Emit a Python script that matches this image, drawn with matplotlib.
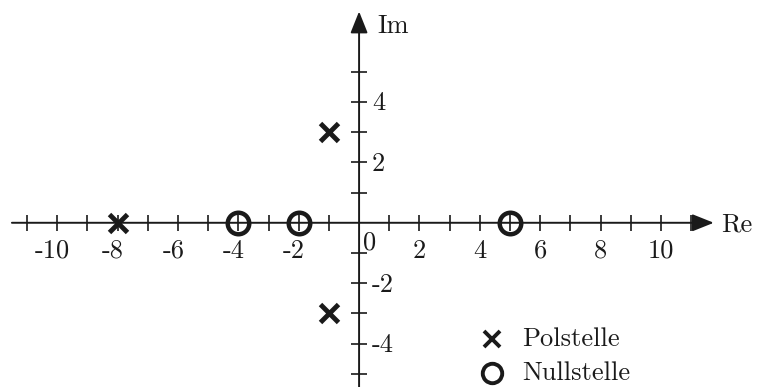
import matplotlib
matplotlib.use('Agg')
import matplotlib.pyplot as plt

# pole / zero positions (real, imag)
pole_re = [-8, -1, -1]
pole_im = [0, 3, -3]
zero_re = [-4, -2, 5]
zero_im = [0, 0, 0]

x_ticks = list(range(-11, 12))
y_ticks = list(range(-5, 6))
x_labels = [-10, -8, -6, -4, -2, 2, 4, 6, 8, 10]
y_labels = [-4, -2, 2, 4]

plt.rcParams['font.family'] = ['cmr10', 'DejaVu Serif']
plt.rcParams['axes.formatter.use_mathtext'] = True
fs = 19
col = '#1a1a1a'

fig = plt.figure(figsize=(7.58, 3.87), dpi=100)
ax = fig.add_axes([0, 0, 1, 1])
ax.set_xlim(-11.89, 13.21)
ax.set_ylim(-5.44, 7.38)
ax.set_aspect('equal')
ax.axis('off')

# axes with arrows
head = dict(arrowstyle='-|>,head_length=0.55,head_width=0.22', lw=1.4,
            color=col, mutation_scale=24, shrinkA=0, shrinkB=0)
ax.annotate('', xy=(11.75, 0), xytext=(-11.5, 0), arrowprops=head)
ax.annotate('', xy=(0, 7.0), xytext=(0, -5.6), arrowprops=head)

# tick marks
t = 0.27
for x in x_ticks:
    if x != 0:
        ax.plot([x, x], [-t, t], color=col, lw=1.2, solid_capstyle='butt')
for y in y_ticks:
    if y != 0:
        ax.plot([-t, t], [y, y], color=col, lw=1.2, solid_capstyle='butt')

# tick labels
for x in x_labels:
    off = -0.15 if x < 0 else 0
    ax.text(x + off, -0.93, str(x), fontsize=fs, ha='center', va='center', color=col)
for y in y_labels:
    ax.text(0.42, y - 0.05, str(y), fontsize=fs, ha='left', va='center', color=col)
ax.text(0.12, -0.66, '0', fontsize=fs, ha='left', va='center', color=col)
ax.text(12.0, -0.05, 'Re', fontsize=fs, ha='left', va='center', color=col)
ax.text(0.6, 6.5, 'Im', fontsize=fs, ha='left', va='center', color=col)

# poles and zeros
ax.plot(pole_re, pole_im, 'x', ms=12.5, mew=3.5, color=col, ls='none', zorder=5)
ax.plot(zero_re, zero_im, 'o', ms=15.5, mew=3.2, mfc='none', mec=col, ls='none', zorder=5)

# legend by hand
ax.plot([4.4], [-3.84], 'x', ms=11.5, mew=2.8, color=col)
ax.plot([4.4], [-4.97], 'o', ms=14, mew=2.8, mfc='none', mec=col)
ax.text(5.4, -3.84, 'Polstelle', fontsize=fs, ha='left', va='center', color=col)
ax.text(5.4, -4.97, 'Nullstelle', fontsize=fs, ha='left', va='center', color=col)

fig.savefig('out.png', dpi=100, facecolor='white')
